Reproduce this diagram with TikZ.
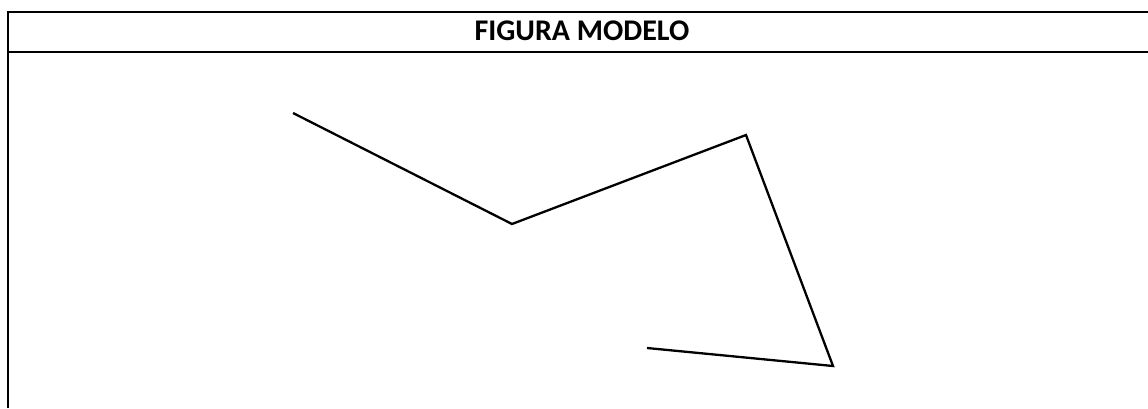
\documentclass[tikz,border=0pt]{standalone}
\usepackage{fontspec}
\setmainfont{Carlito}
\usepackage{tikz}

\begin{document}
\begin{tikzpicture}[x=1pt, y=-1pt]

    \useasboundingbox (0, 0) rectangle (1148, 408);

    % Table frame and header row
    \draw[line width=2.4pt] (8, 408) -- (8, 12) -- (1149, 12);
    \draw[line width=2.4pt] (8, 52) -- (1149, 52);
    \node[font=\fontsize{30}{35}\selectfont\bfseries] (title)
        at (582, 31) {FIGURA MODELO};

    % Model figure: open polyline
    \coordinate (p1) at (293, 113);
    \coordinate (p2) at (512, 224);
    \coordinate (p3) at (746, 135);
    \coordinate (p4) at (833, 366);
    \coordinate (p5) at (647, 348);
    \draw[line width=2.3pt, line join=miter] (p1) -- (p2) -- (p3) -- (p4) -- (p5);

\end{tikzpicture}
\end{document}
